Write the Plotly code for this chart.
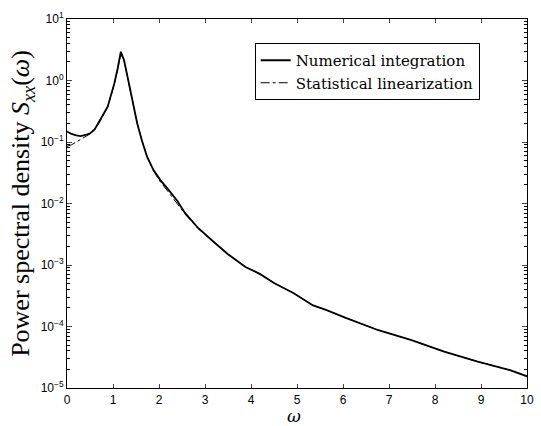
import plotly.graph_objects as go

# Numerical integration
num_w = [0.0, 0.1, 0.2, 0.3, 0.4, 0.5, 0.6, 0.7, 0.8, 0.884, 0.95, 1.03, 1.1, 1.135, 1.17,
         1.24, 1.31, 1.385, 1.45, 1.527, 1.63, 1.74, 1.88, 2.03, 2.2, 2.4, 2.56, 2.85,
         3.21, 3.5, 3.88, 4.2, 4.5, 4.92, 5.35, 5.63, 6.06, 6.5, 6.77, 7.49, 8.2,
         8.91, 9.63, 10.0]
num_S = [0.148, 0.135, 0.128, 0.125, 0.13, 0.138, 0.16, 0.21, 0.29, 0.375, 0.55, 0.90,
         1.55, 2.15, 2.94, 2.15, 1.2, 0.70, 0.38, 0.20, 0.105, 0.058, 0.035, 0.024, 0.017,
         0.011, 0.0071, 0.0040, 0.0023, 0.0015, 0.00093, 0.00071, 0.00051, 0.00035,
         0.00022, 0.000186, 0.000138, 0.000105, 8.7e-5, 6.0e-5, 3.9e-5, 2.7e-5,
         1.95e-5, 1.55e-5]

# Statistical linearization
sl_w = [0.0, 0.1, 0.2, 0.3, 0.4, 0.5, 0.6, 0.7, 0.8, 0.884, 0.95, 1.03, 1.1, 1.135, 1.17,
        1.24, 1.31, 1.385, 1.45, 1.527, 1.63, 1.74, 1.88, 2.03, 2.2, 2.4, 2.56, 2.85,
        3.21, 3.5, 3.88, 4.2, 4.5, 4.92, 5.35, 5.63, 6.06, 6.5, 6.77, 7.49, 8.2,
        8.91, 9.63, 10.0]
sl_S = [0.085, 0.09, 0.10, 0.11, 0.12, 0.135, 0.158, 0.205, 0.285, 0.37, 0.54, 0.88,
        1.5, 2.05, 2.7, 2.1, 1.2, 0.70, 0.38, 0.20, 0.105, 0.058, 0.034, 0.0225, 0.0155,
        0.0100, 0.0068, 0.0039, 0.0023, 0.0015, 0.00093, 0.00071, 0.00051, 0.00035,
        0.00022, 0.000186, 0.000138, 0.000105, 8.7e-5, 6.0e-5, 3.9e-5, 2.7e-5,
        1.95e-5, 1.55e-5]

x_ticks = [0, 1, 2, 3, 4, 5, 6, 7, 8, 9, 10]
y_ticks = [1e-5, 1e-4, 1e-3, 1e-2, 1e-1, 1e0, 1e1]
y_ticktext = ["10<sup>−5</sup>", "10<sup>−4</sup>", "10<sup>−3</sup>", "10<sup>−2</sup>",
              "10<sup>−1</sup>", "10<sup>0</sup>", "10<sup>1</sup>"]
y_minor = [m * d for d in [1e-5, 1e-4, 1e-3, 1e-2, 1e-1, 1e0] for m in range(2, 10)]

fig = go.Figure()
fig.add_trace(go.Scatter(x=sl_w, y=sl_S, mode="lines", name="Statistical linearization",
                         line=dict(color="black", width=1, dash="dashdot"), legendrank=2))
fig.add_trace(go.Scatter(x=num_w, y=num_S, mode="lines", name="Numerical integration",
                         line=dict(color="black", width=1.8), legendrank=1))
# invisible carrier for the minor-tick overlay axis
fig.add_trace(go.Scatter(x=[None], y=[None], yaxis="y2", showlegend=False,
                         hoverinfo="skip", mode="lines"))

fig.update_layout(
    width=541, height=426,
    margin=dict(l=67, r=7, t=19, b=38),
    plot_bgcolor="white", paper_bgcolor="white",
    showlegend=True,
    legend=dict(x=0.408, y=0.935, xanchor="left", yanchor="top",
                bordercolor="black", borderwidth=1, bgcolor="white",
                font=dict(family="DejaVu Serif", size=15, color="black"),
                tracegroupgap=0, itemwidth=30),
    xaxis=dict(range=[0, 10], tickvals=x_ticks, ticks="inside", ticklen=4,
               showline=True, linecolor="black", linewidth=1, mirror="ticks",
               showgrid=False, zeroline=False, ticklabelstandoff=1,
               tickfont=dict(family="Liberation Sans", size=12, color="black")),
    yaxis=dict(type="log", range=[-5, 1], tickvals=y_ticks, ticktext=y_ticktext,
               ticks="inside", ticklen=5,
               showline=True, linecolor="black", linewidth=1, mirror="ticks",
               showgrid=False, zeroline=False,
               tickfont=dict(family="Liberation Sans", size=12, color="black"),
               title=dict(text="Power spectral density <i>S</i><sub><i>xx</i></sub>(<i>ω</i>)",
                          standoff=3,
                          font=dict(family="Liberation Serif", size=26, color="black"))),
    yaxis2=dict(type="log", range=[-5, 1], overlaying="y", side="left",
                tickvals=y_minor, ticks="inside", ticklen=3, tickcolor="black",
                showticklabels=False, showline=True, linecolor="black", linewidth=1,
                mirror="ticks", showgrid=False, zeroline=False),
    annotations=[dict(text="<i>ω</i>", xref="paper", yref="paper", x=0.494, y=0,
                      yshift=-28, yanchor="middle", showarrow=False,
                      font=dict(family="DejaVu Serif", size=17, color="black"))],
)

fig.write_html("out.html")
